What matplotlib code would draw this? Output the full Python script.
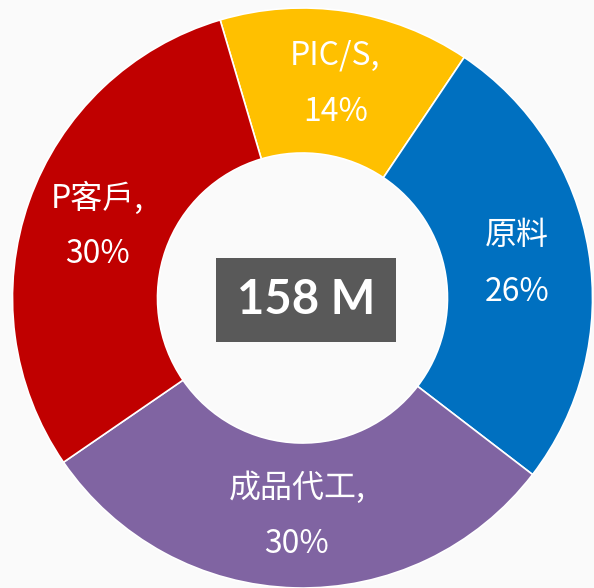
import numpy as np
import matplotlib
matplotlib.use("Agg")
import matplotlib.pyplot as plt
from matplotlib.patches import Rectangle

labels = ["PIC/S,", "原料", "成品代工,", "P客戶,"]
shares = [14, 26, 30, 30]
colors = ["#FFC000", "#0070C0", "#8064A2", "#C00000"]
total_text = "158 M"

BG = "#FAFAFA"

fig = plt.figure(figsize=(5.94, 5.88), dpi=100, facecolor=BG)
# pie centre at about (302, 298) px, outer radius 290 px
ax = fig.add_axes([(302.5 - 290) / 594, (588 - 298 - 290) / 588, 580 / 594, 580 / 588])
ax.set_facecolor(BG)

wedges, _ = ax.pie(shares, colors=colors, startangle=106.5, counterclock=False,
                   radius=1.0,
                   wedgeprops=dict(width=0.5, edgecolor="white", linewidth=1.2))

# labels at mid-angle, 3/4 of the radius, two lines each
for w, lab, val in zip(wedges, labels, shares):
    mid = np.deg2rad((w.theta1 + w.theta2) / 2)
    x, y = 0.75 * np.cos(mid), 0.75 * np.sin(mid)
    ax.text(x, y + 0.095, lab, ha="center", va="center", color="white",
            fontsize=23, family=["Noto Sans CJK TC", "DejaVu Sans"])
    ax.text(x, y - 0.1, f"{val}%", ha="center", va="center", color="white",
            fontsize=23, family=["Noto Sans CJK TC", "DejaVu Sans"])

# centre total box
bw, bh = 180 / 290, 84 / 290
ax.add_patch(Rectangle((0.012 - bw / 2, -0.007 - bh / 2), bw, bh,
                       facecolor="#595959", edgecolor="none", zorder=3))
ax.text(0.012, -0.007, total_text, ha="center", va="center", color="white",
        fontsize=34, fontweight="bold", family="Lato", zorder=4)

ax.set_xlim(-1, 1)
ax.set_ylim(-1, 1)
ax.set_aspect("equal")
ax.axis("off")

fig.savefig("out.png", dpi=100, facecolor=BG)
